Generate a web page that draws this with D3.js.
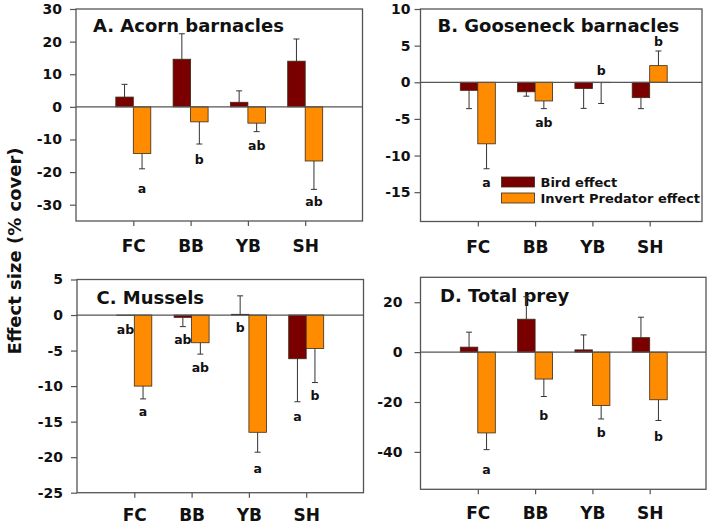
<!DOCTYPE html>
<html>
<head>
<meta charset="utf-8">
<script src="https://cdn.jsdelivr.net/npm/d3@7"></script>
<style>
  body { margin: 0; background: #fff; }
  svg { display: block; font-family: 'DejaVu Sans', sans-serif; font-weight: bold; }
</style>
</head>
<body>
<svg id="chart" width="709" height="526"></svg>
<script>
'use strict';

// sites along the x axis and the two effect series
const categories = ['FC', 'BB', 'YB', 'SH'];
const seriesNames = ['Bird effect', 'Invert Predator effect'];

// A. Acorn barnacles
const acornBird = [3.0, 14.6, 1.4, 14.0];
const acornBirdErr = [3.9, 7.8, 3.5, 6.8];
const acornInvert = [-14.3, -4.6, -5.0, -16.6];
const acornInvertErr = [4.7, 6.8, 2.6, 8.7];
const acornTicks = [-30, -20, -10, 0, 10, 20, 30];
const acornLetters = [
  { cat: 'FC', s: 1, text: 'a', y: -24.9 },
  { cat: 'BB', s: 1, text: 'b', y: -16.1 },
  { cat: 'YB', s: 1, text: 'ab', y: -11.9 },
  { cat: 'SH', s: 1, text: 'ab', y: -29.1 }
];

// B. Gooseneck barnacles
const gooseBird = [-1.1, -1.3, -0.86, -2.1];
const gooseBirdErr = [2.5, 0.6, 2.7, 1.5];
const gooseInvert = [-8.4, -2.55, -0.05, 2.27];
const gooseInvertErr = [3.4, 1.05, 2.85, 2.0];
const gooseTicks = [-15, -10, -5, 0, 5, 10];
const gooseLetters = [
  { cat: 'FC', s: 1, text: 'a', y: -13.7 },
  { cat: 'BB', s: 1, text: 'ab', y: -5.5 },
  { cat: 'YB', s: 1, text: 'b', y: 1.6 },
  { cat: 'SH', s: 1, text: 'b', y: 5.5 }
];

// C. Mussels
const musselBird = [-0.05, -0.33, 0.1, -6.15];
const musselBirdErr = [0, 1.3, 2.6, 6.05];
const musselInvert = [-10.0, -3.9, -16.5, -4.7];
const musselInvertErr = [1.8, 1.6, 2.8, 4.8];
const musselTicks = [-25, -20, -15, -10, -5, 0, 5];
const musselLetters = [
  { cat: 'FC', s: 0, text: 'ab', y: -2.1 },
  { cat: 'FC', s: 1, text: 'a', y: -13.6 },
  { cat: 'BB', s: 0, text: 'ab', y: -3.5 },
  { cat: 'BB', s: 1, text: 'ab', y: -7.4 },
  { cat: 'YB', s: 0, text: 'b', y: -1.7 },
  { cat: 'YB', s: 1, text: 'a', y: -21.6 },
  { cat: 'SH', s: 0, text: 'a', y: -14.3 },
  { cat: 'SH', s: 1, text: 'b', y: -11.3 }
];

// D. Total prey
const totalBird = [2.0, 13.2, 0.9, 5.8];
const totalBirdErr = [6.0, 9.0, 6.0, 8.2];
const totalInvert = [-32.4, -10.8, -21.4, -19.1];
const totalInvertErr = [6.7, 7.0, 5.4, 8.3];
const totalTicks = [-40, -20, 0, 20];
const totalLetters = [
  { cat: 'FC', s: 1, text: 'a', y: -47.2 },
  { cat: 'BB', s: 1, text: 'b', y: -25.4 },
  { cat: 'YB', s: 1, text: 'b', y: -32.4 },
  { cat: 'SH', s: 1, text: 'b', y: -33.8 }
];

const colors = ['#7a0000', '#ff8c00'];
const frameColor = '#555';

const panels = [
  { title: 'A. Acorn barnacles', bird: acornBird, birdErr: acornBirdErr, inv: acornInvert, invErr: acornInvertErr,
    ticks: acornTicks, domain: [-35, 30], letters: acornLetters,
    left: 76, top: 9, width: 286.5, height: 212, pad: 8, xPad: 14, titleX: 17, titleY: 22.7 },
  { title: 'B. Gooseneck barnacles', bird: gooseBird, birdErr: gooseBirdErr, inv: gooseInvert, invErr: gooseInvertErr,
    ticks: gooseTicks, domain: [-19, 10], letters: gooseLetters,
    left: 420.5, top: 9, width: 281.5, height: 212.5, pad: 4, xPad: 14, titleX: 17, titleY: 22.7, legend: true },
  { title: 'C. Mussels', bird: musselBird, birdErr: musselBirdErr, inv: musselInvert, invErr: musselInvertErr,
    ticks: musselTicks, domain: [-25, 5], letters: musselLetters,
    left: 77, top: 279.5, width: 286.5, height: 213.2, pad: 8, xPad: 11, titleX: 19.5, titleY: 24.8 },
  { title: 'D. Total prey', bird: totalBird, birdErr: totalBirdErr, inv: totalInvert, invErr: totalInvertErr,
    ticks: totalTicks, domain: [-55, 30], letters: totalLetters,
    left: 420.5, top: 277.3, width: 285.5, height: 212, pad: 12, xPad: 13, titleX: 19.5, titleY: 24.4 }
];

const svg = d3.select('#chart');

function drawPanel(p) {
  const g = svg.append('g').attr('transform', 'translate(' + p.left + ',' + p.top + ')');
  const y = d3.scaleLinear().domain(p.domain).range([p.height, 0]);
  const x = d3.scalePoint().domain(categories).range([0, 5 * 57.3]).padding(1);
  const xs = d3.scaleBand().domain([0, 1]).range([-17.5, 17.5]);

  // y axis
  const yAxis = g.append('g')
    .call(d3.axisLeft(y).tickValues(p.ticks).tickSize(6).tickPadding(p.pad)
      .tickFormat(function (d) { return String(d); }));
  yAxis.select('.domain').remove();
  yAxis.selectAll('line').attr('stroke', frameColor).attr('stroke-width', 1.2);
  yAxis.selectAll('text').attr('fill', '#111').style('font-size', '14px')
    .style('font-family', "'DejaVu Sans', sans-serif").style('font-weight', 'bold');

  // x axis
  const xAxis = g.append('g').attr('transform', 'translate(0,' + p.height + ')')
    .call(d3.axisBottom(x).tickSize(5).tickPadding(p.xPad));
  xAxis.select('.domain').remove();
  xAxis.selectAll('line').attr('stroke', frameColor).attr('stroke-width', 1.2);
  xAxis.selectAll('text').attr('fill', '#111').style('font-size', '17px')
    .style('font-family', "'DejaVu Sans', sans-serif").style('font-weight', 'bold');

  g.append('text')
    .attr('x', p.titleX).attr('y', p.titleY)
    .attr('fill', '#111').style('font-size', '18px')
    .text(p.title);

  const rows = [];
  categories.forEach(function (c, i) {
    rows.push({ cat: c, s: 0, v: p.bird[i], e: p.birdErr[i] });
    rows.push({ cat: c, s: 1, v: p.inv[i], e: p.invErr[i] });
  });

  // error bars (one-sided, away from zero)
  rows.forEach(function (d) {
    if (!d.e) return;
    const cx = x(d.cat) + xs(d.s) + xs.bandwidth() / 2;
    const end = d.v >= 0 ? d.v + d.e : d.v - d.e;
    g.append('line').attr('x1', cx).attr('x2', cx).attr('y1', y(d.v)).attr('y2', y(end))
      .attr('stroke', '#333').attr('stroke-width', 1);
    g.append('line').attr('x1', cx - 3).attr('x2', cx + 3).attr('y1', y(end)).attr('y2', y(end))
      .attr('stroke', '#333').attr('stroke-width', 1);
  });

  g.selectAll('rect.bar').data(rows).join('rect')
    .attr('class', 'bar')
    .attr('x', function (d) { return x(d.cat) + xs(d.s); })
    .attr('width', xs.bandwidth())
    .attr('y', function (d) { return y(Math.max(0, d.v)); })
    .attr('height', function (d) { return Math.abs(y(d.v) - y(0)); })
    .attr('fill', function (d) { return colors[d.s]; })
    .attr('stroke', '#3a2a1a').attr('stroke-width', 0.8);

  // zero line
  g.append('line').attr('x1', 0).attr('x2', p.width).attr('y1', y(0)).attr('y2', y(0))
    .attr('stroke', frameColor).attr('stroke-width', 1.2);

  g.selectAll('text.letter').data(p.letters).join('text')
    .attr('class', 'letter')
    .attr('x', function (d) { return x(d.cat) + xs(d.s) + xs.bandwidth() / 2; })
    .attr('y', function (d) { return y(d.y); })
    .attr('dy', '0.36em')
    .attr('text-anchor', 'middle')
    .attr('fill', '#111').style('font-size', '12.5px')
    .text(function (d) { return d.text; });

  g.append('rect').attr('x', 0).attr('y', 0).attr('width', p.width).attr('height', p.height)
    .attr('fill', 'none').attr('stroke', frameColor).attr('stroke-width', 1.3);

  if (p.legend) {
    const lg = g.append('g').attr('transform', 'translate(81,168)');
    seriesNames.forEach(function (name, i) {
      lg.append('rect').attr('x', 0).attr('y', i * 16).attr('width', 33).attr('height', 10)
        .attr('fill', colors[i]).attr('stroke', '#3a2a1a').attr('stroke-width', 0.8);
      lg.append('text').attr('x', 39).attr('y', i * 16 + 9.5)
        .attr('fill', '#111').style('font-size', '13px').text(name);
    });
  }
}

panels.forEach(drawPanel);

svg.append('text')
  .attr('transform', 'translate(21,251) rotate(-90)')
  .attr('text-anchor', 'middle')
  .attr('fill', '#111').style('font-size', '18px')
  .text('Effect size (% cover)');
</script>
</body>
</html>
